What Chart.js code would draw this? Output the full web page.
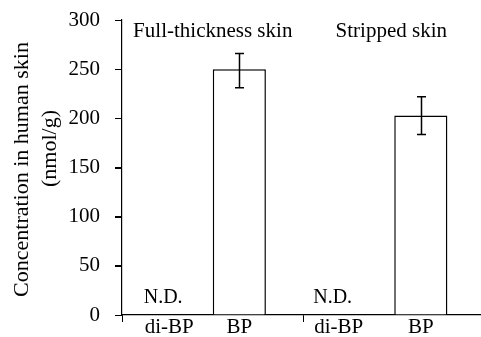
<!DOCTYPE html>
<html>
<head>
<meta charset="utf-8">
<script src="https://cdn.jsdelivr.net/npm/chart.js@4.4.1/dist/chart.umd.min.js"></script>
<style>
  html, body { margin: 0; padding: 0; background: #fff; overflow: hidden; width: 481px; height: 337px; }
  #wrap { position: relative; width: 481px; height: 337px; overflow: hidden; }
</style>
</head>
<body>
<div id="wrap"><canvas id="c" width="485" height="337"></canvas></div>
<script>
// ---- data ----
const groups = ['Full-thickness skin', 'Stripped skin'];
const seriesNames = ['di-BP', 'BP'];
const diBPValues = [null, null];        // N.D. (not detected)
const bpValues = [250, 203];
const bpErrPlus = [16, 19];
const bpErrMinus = [19, 19.5];
const yTickValues = [0, 50, 100, 150, 200, 250, 300];
const ndText = 'N.D.';
const yTitleLines = ['Concentration in human skin', '(nmol/g)'];

// ---- styles ----
const FONT = '"Liberation Serif", "Times New Roman", serif';
const INK = '#000';

const overlay = {
  id: 'overlay',
  afterDatasetsDraw(chart) {
    const ctx = chart.ctx;
    const ys = chart.scales.y;
    const xs = chart.scales.x;
    const area = chart.chartArea;
    ctx.save();
    ctx.fillStyle = INK;
    ctx.strokeStyle = INK;

    // outward tick marks on the value axis
    ctx.lineWidth = 1.2;
    ctx.beginPath();
    ys.ticks.forEach((t) => {
      const yy = Math.round(ys.getPixelForValue(t.value)) + 0.5;
      ctx.moveTo(area.left - 7, yy);
      ctx.lineTo(area.left, yy);
    });
    ctx.stroke();

    // error bars on BP
    const bpMeta = chart.getDatasetMeta(1);
    ctx.lineWidth = 1.5;
    bpMeta.data.forEach((el, i) => {
      const v = bpValues[i];
      const yT = ys.getPixelForValue(v + bpErrPlus[i]);
      const yB = ys.getPixelForValue(v - bpErrMinus[i]);
      const x = Math.round(el.x) + 0.5;
      ctx.beginPath();
      ctx.moveTo(x, yT); ctx.lineTo(x, yB);
      ctx.moveTo(x - 4.5, yT); ctx.lineTo(x + 4.5, yT);
      ctx.moveTo(x - 4.5, yB); ctx.lineTo(x + 4.5, yB);
      ctx.stroke();
    });

    // series labels under each bar, N.D. markers
    const diMeta = chart.getDatasetMeta(0);
    const diShift = [-17, -29];
    const ndShift = [-23, -35];
    ctx.textAlign = 'center';
    ctx.textBaseline = 'alphabetic';
    diMeta.data.forEach((el, i) => {
      ctx.font = '21px ' + FONT;
      ctx.fillText(seriesNames[0], el.x + diShift[i], area.bottom + 18);
      if (diBPValues[i] === null) {
        ctx.font = '20px ' + FONT;
        ctx.fillText(ndText, el.x + ndShift[i], area.bottom - 12);
      }
    });
    bpMeta.data.forEach((el) => {
      ctx.font = '21px ' + FONT;
      ctx.fillText(seriesNames[1], el.x, area.bottom + 18);
    });

    // group titles at top, centred on each category
    const titleShift = [0, -3];
    ctx.font = '21px ' + FONT;
    groups.forEach((g, i) => {
      ctx.fillText(g, xs.getPixelForValue(i) + titleShift[i], area.top + 17);
    });

    // y-axis title (two rotated lines)
    const cy = (area.top + area.bottom) / 2;
    ctx.font = '22px ' + FONT;
    ctx.textBaseline = 'middle';
    [[22, cy + 2], [50, cy - 19]].forEach((p, i) => {
      ctx.save();
      ctx.translate(p[0], p[1]);
      ctx.rotate(-Math.PI / 2);
      ctx.fillText(yTitleLines[i], 0, 0);
      ctx.restore();
    });
    ctx.restore();
  }
};

new Chart(document.getElementById('c'), {
  type: 'bar',
  data: {
    labels: groups,
    datasets: [
      { label: seriesNames[0], data: diBPValues, backgroundColor: '#fff', borderColor: INK, borderWidth: 1.5, borderSkipped: 'start' },
      { label: seriesNames[1], data: bpValues, backgroundColor: '#fff', borderColor: INK, borderWidth: 1.5, borderSkipped: 'start' }
    ]
  },
  options: {
    responsive: false,
    animation: false,
    events: [],
    layout: { padding: { top: 20, right: 0, bottom: 0, left: 0 } },
    categoryPercentage: 0.5856,
    barPercentage: 1.0,
    plugins: { legend: { display: false }, tooltip: { enabled: false }, title: { display: false } },
    scales: {
      x: {
        type: 'category',
        offset: true,
        grid: { display: true, offset: true, drawOnChartArea: false, drawTicks: true, tickLength: 7, color: INK, lineWidth: 1 },
        border: { display: true, color: INK, width: 1.2 },
        ticks: { display: false },
        afterFit(scale) { scale.height = 22; scale.paddingLeft = 0; scale.paddingRight = 0; }
      },
      y: {
        min: yTickValues[0],
        max: yTickValues[yTickValues.length - 1],
        grid: { display: true, drawOnChartArea: false, drawTicks: true, tickLength: 7, color: INK, lineWidth: 1 },
        border: { display: true, color: INK, width: 1.2 },
        ticks: { color: INK, padding: 15, stepSize: yTickValues[1] - yTickValues[0], font: { family: FONT, size: 21 } },
        afterFit(scale) { scale.width = 122; scale.paddingTop = 0; scale.paddingBottom = 0; }
      }
    }
  },
  plugins: [overlay]
});
</script>
</body>
</html>
